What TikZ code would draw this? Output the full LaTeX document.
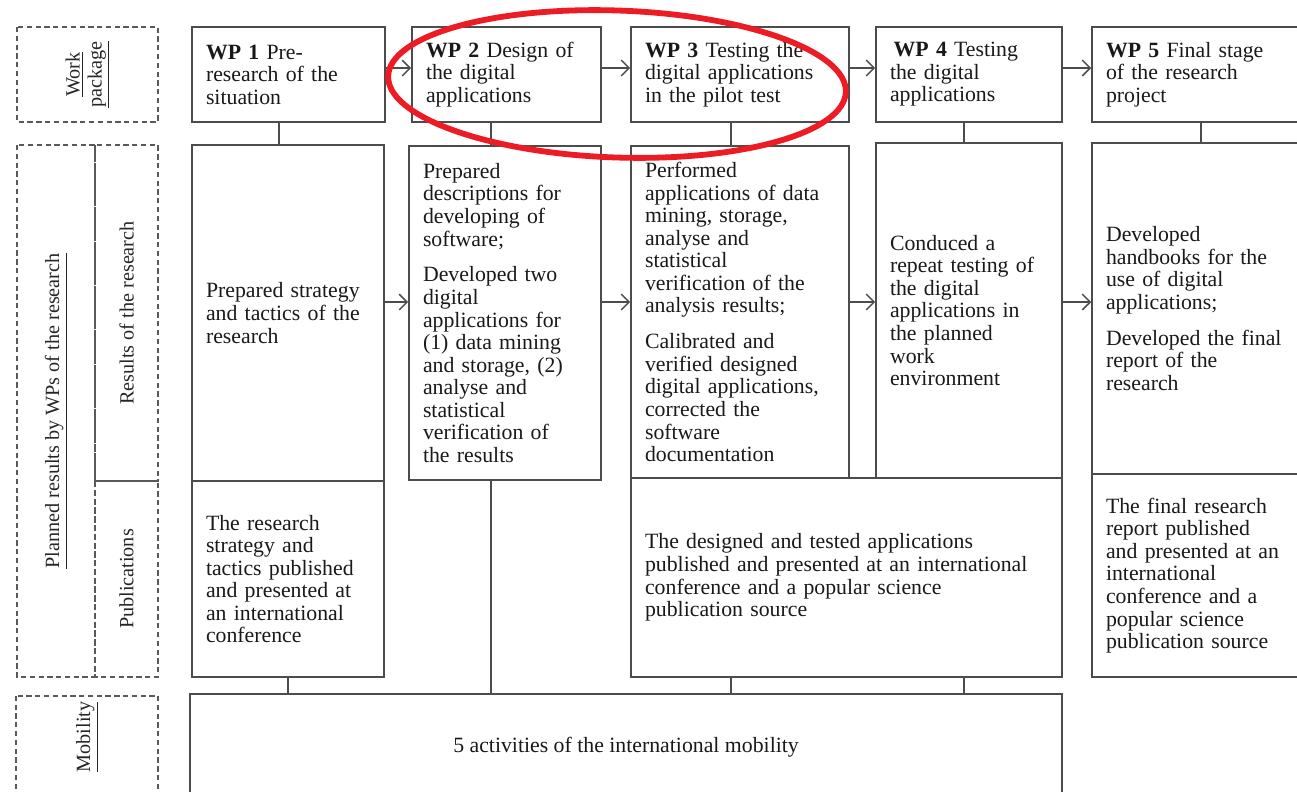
\documentclass[tikz,border=0pt]{standalone}
\usepackage{fontspec}
\setmainfont{Liberation Serif}
\usetikzlibrary{arrows.meta}
\definecolor{markred}{RGB}{237,28,36}
\newcommand\cellfont{\fontsize{12.4}{12.85}\selectfont}
\newcommand\sidefont{\fontsize{11.5}{12.5}\selectfont}

\begin{document}
\begin{tikzpicture}[x=0.02cm, y=-0.02cm,
  cell/.style={draw=black!70, line width=0.9pt, inner xsep=0.28cm, inner ysep=2pt,
    align=left, font=\cellfont, text=black!90},
  side/.style={draw=black!65, line width=1pt, dash pattern=on 3pt off 2pt,
    rotate=90, align=center, font=\sidefont, text=black!85},
  arr/.style={-{Straight Barb[length=4.5pt,width=9pt]}, line width=0.9pt, black!70},
  link/.style={line width=0.9pt, black!70},
]
  \useasboundingbox (0,0) rectangle (1297,791);
  \clip (0,0) rectangle (1297,791);

  % side labels
  \node[side, minimum width=1.9cm, minimum height=2.82cm] (lwp) at (87.5,74.5)
    {\underline{Work}\\\underline{package}};
  \node[side, minimum width=10.64cm, minimum height=1.56cm] (lplan) at (56,411)
    {\underline{Planned results by WPs of the research}};
  \node[side, minimum width=6.72cm, minimum height=1.26cm] (lres) at (126.5,313)
    {Results of the research};
  \node[side, minimum width=3.92cm, minimum height=1.26cm] (lpub) at (126.5,579)
    {Publications};
  \node[side, minimum width=2.02cm, minimum height=2.84cm] (lmob) at (87,749.5)
    {\hspace{0.5cm}\underline{Mobility}};

  % work packages
  \node[cell, minimum width=3.86cm, minimum height=1.9cm, text width=3.30cm] (wp1) at (288.5,74.5)
    {\textbf{WP 1} Pre-\\research of the\\situation};
  \node[cell, minimum width=3.78cm, minimum height=1.9cm, text width=3.22cm] (wp2) at (506.5,74.5)
    {\textbf{WP 2} Design of\\the digital\\applications};
  \node[cell, minimum width=4.36cm, minimum height=1.9cm, text width=3.80cm] (wp3) at (740,74.5)
    {\textbf{WP 3} Testing the\\digital applications\\in the pilot test};
  \node[cell, minimum width=3.72cm, minimum height=1.9cm, text width=3.16cm] (wp4) at (969,74.5)
    {\,\textbf{WP 4} Testing\\the digital\\applications};
  \node[cell, minimum width=4.26cm, minimum height=1.9cm, text width=3.70cm] (wp5) at (1198.5,74.5)
    {\textbf{WP 5} Final stage\\of the research\\project};

  % results of the research
  \node[cell, minimum width=3.84cm, minimum height=6.72cm, text width=3.28cm] (r1) at (288,313)
    {Prepared strategy\\and tactics of the\\research};
  \node[cell, minimum width=3.84cm, minimum height=6.68cm, text width=3.28cm] (r2) at (505,313)
    {Prepared\\descriptions for\\developing of\\software;\\[7.5pt]
     Developed two\\digital\\applications for\\(1) data mining\\and storage, (2)\\analyse and\\statistical\\verification of\\the results};
  \node[cell, minimum width=4.36cm, minimum height=6.64cm, text width=3.80cm] (r3) at (740,312)
    {Performed\\applications of data\\mining, storage,\\analyse and\\statistical\\verification of the\\analysis results;\\[7.5pt]
     Calibrated and\\verified designed\\digital applications,\\corrected the\\software\\documentation};
  \node[cell, minimum width=3.72cm, minimum height=6.70cm, text width=3.16cm] (r4) at (969,310.5)
    {Conduced a\\repeat testing of\\the digital\\applications in\\the planned\\work\\environment};
  \node[cell, minimum width=4.26cm, minimum height=6.62cm, text width=3.70cm] (r5) at (1198.5,308.5)
    {Developed\\handbooks for the\\use of digital\\applications;\\[7.5pt]
     Developed the final\\report of the\\research};

  % publications
  \node[cell, minimum width=3.84cm, minimum height=3.92cm, text width=3.28cm] (p1) at (288,579)
    {The research\\strategy and\\tactics published\\and presented at\\an international\\conference};
  \node[cell, minimum width=8.62cm, minimum height=3.98cm, text width=8.06cm] (p34) at (846.5,577.5)
    {The designed and tested applications\\published and presented at an international\\conference and a popular science\\publication source};
  \node[cell, minimum width=4.26cm, minimum height=4.06cm, text width=3.70cm] (p5) at (1198.5,575.5)
    {The final research\\report published\\and presented at an\\international\\conference and a\\popular science\\publication source};

  % mobility
  \node[cell, minimum width=17.44cm, minimum height=2.12cm, align=center] (mob) at (626,747)
    {5 activities of the international mobility};

  % connectors
  \coordinate (toprow) at (0,68);
  \coordinate (midrow) at (0,302);
  \foreach \a/\b in {wp1/wp2, wp2/wp3, wp3/wp4, wp4/wp5}
    \draw[arr] (\a.east |- toprow) -- (\b.west |- toprow);
  \foreach \a/\b in {r1/r2, r2/r3, r3/r4, r4/r5}
    \draw[arr] (\a.east |- midrow) -- (\b.west |- midrow);
  \foreach \a/\b/\x in {wp1/r1/279, wp2/r2/491, wp3/r3/731, wp4/r4/964, wp5/r5/1201}
    \draw[link] (\a.south -| \x,0) -- (\b.north -| \x,0);
  \draw[link] (p1.south) -- (p1.south |- mob.north);
  \draw[link] (r2.south -| 491,0) -- (mob.north -| 491,0);
  \foreach \x in {731,964}
    \draw[link] (p34.south -| \x,0) -- (mob.north -| \x,0);

  % highlight
  \draw[markred, line width=3.3pt, rotate around={-2:(617,84)}] (617,84) ellipse [x radius=4.58cm, y radius=1.47cm];
\end{tikzpicture}
\end{document}
